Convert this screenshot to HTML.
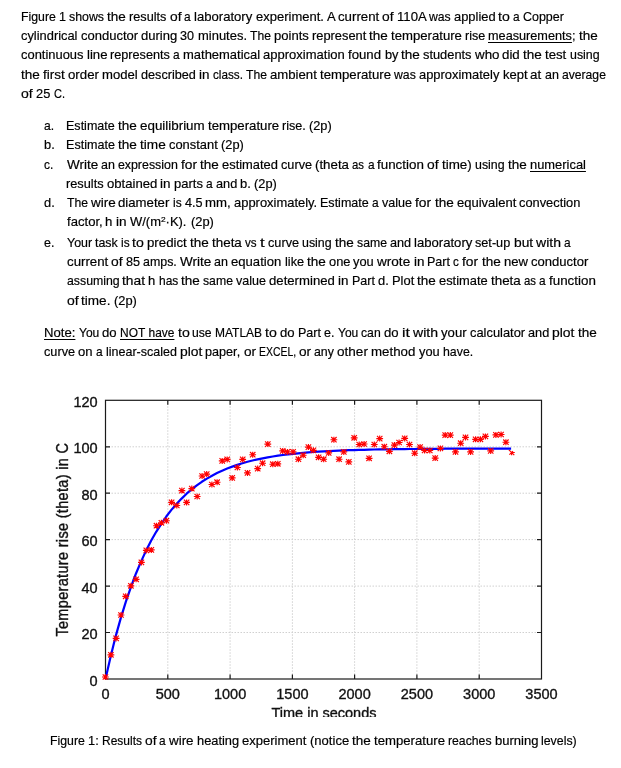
<!DOCTYPE html>
<html lang="en">
<head>
<meta charset="utf-8">
<title>Figure 1 - wire heating experiment</title>
<style>
html,body{margin:0;padding:0;background:#fff;}
body{width:621px;height:768px;position:relative;overflow:hidden;font-family:"Liberation Sans",sans-serif;color:#000;}
.l{position:absolute;white-space:nowrap;font-size:12.4px;line-height:16px;height:16px;color:#000;-webkit-text-stroke:0.18px #000;}
.l span{position:absolute;top:0;left:0;transform-origin:0 50%;white-space:nowrap;}
.l u{text-decoration:underline;text-decoration-thickness:1px;text-underline-offset:2px;}
.l sup{font-size:8px;line-height:0;vertical-align:4px;}
#chart{position:absolute;left:0;top:380px;width:621px;height:337px;overflow:hidden;}
#chart svg{display:block;}
#chart text{font-family:"Liberation Sans",sans-serif;fill:#111;stroke:#111;stroke-width:0.35px;}
</style>
</head>
<body>
<div class="l" style="left:21.0px;top:9px"><span style="left:0.0px;transform:scaleX(0.991)">Figure</span> <span style="left:37.9px;transform:scaleX(1.015)">1</span> <span style="left:48.1px;transform:scaleX(0.998)">shows</span> <span style="left:86.3px;transform:scaleX(1.089)">the</span> <span style="left:108.2px;transform:scaleX(1.024)">results</span> <span style="left:148.7px;transform:scaleX(1.113)">of</span> <span style="left:163.3px;transform:scaleX(0.958)">a</span> <span style="left:173.1px;transform:scaleX(1.058)">laboratory</span> <span style="left:234.5px;transform:scaleX(1.049)">experiment.</span> <span style="left:305.5px;transform:scaleX(1.053)">A</span> <span style="left:316.6px;transform:scaleX(1.068)">current</span> <span style="left:361.0px;transform:scaleX(1.113)">of</span> <span style="left:375.6px;transform:scaleX(1.061)">110A</span> <span style="left:407.8px;transform:scaleX(0.986)">was</span> <span style="left:432.6px;transform:scaleX(1.041)">applied</span> <span style="left:477.4px;transform:scaleX(1.139)">to</span> <span style="left:492.3px;transform:scaleX(0.958)">a</span> <span style="left:502.0px;transform:scaleX(1.006)">Copper</span></div>
<div class="l" style="left:21.2px;top:28px"><span style="left:0.0px;transform:scaleX(1.038)">cylindrical</span> <span style="left:59.6px;transform:scaleX(1.051)">conductor</span> <span style="left:119.9px;transform:scaleX(1.052)">during</span> <span style="left:159.3px;transform:scaleX(1.016)">30</span> <span style="left:176.5px;transform:scaleX(1.046)">minutes.</span> <span style="left:228.5px;transform:scaleX(0.977)">The</span> <span style="left:252.5px;transform:scaleX(1.055)">points</span> <span style="left:290.5px;transform:scaleX(1.037)">represent</span> <span style="left:348.0px;transform:scaleX(1.089)">the</span> <span style="left:369.9px;transform:scaleX(1.061)">temperature</span> <span style="left:443.9px;transform:scaleX(1.015)">rise</span> <span style="left:467.3px;transform:scaleX(1.024)"><u>measurements</u>;</span> <span style="left:557.9px;transform:scaleX(1.089)">the</span></div>
<div class="l" style="left:21.2px;top:47px"><span style="left:0.0px;transform:scaleX(1.042)">continuous</span> <span style="left:65.6px;transform:scaleX(1.063)">line</span> <span style="left:89.2px;transform:scaleX(1.022)">represents</span> <span style="left:152.2px;transform:scaleX(0.960)">a</span> <span style="left:162.0px;transform:scaleX(1.047)">mathematical</span> <span style="left:242.3px;transform:scaleX(1.051)">approximation</span> <span style="left:327.3px;transform:scaleX(1.066)">found</span> <span style="left:363.5px;transform:scaleX(1.030)">by</span> <span style="left:380.1px;transform:scaleX(1.092)">the</span> <span style="left:402.0px;transform:scaleX(1.036)">students</span> <span style="left:453.7px;transform:scaleX(1.076)">who</span> <span style="left:481.3px;transform:scaleX(1.072)">did</span> <span style="left:502.2px;transform:scaleX(1.092)">the</span> <span style="left:524.1px;transform:scaleX(1.065)">test</span> <span style="left:548.5px;transform:scaleX(1.001)">using</span></div>
<div class="l" style="left:21.2px;top:67px"><span style="left:0.0px;transform:scaleX(1.092)">the</span> <span style="left:22.0px;transform:scaleX(1.093)">first</span> <span style="left:46.9px;transform:scaleX(1.069)">order</span> <span style="left:81.0px;transform:scaleX(1.058)">model</span> <span style="left:119.9px;transform:scaleX(1.022)">described</span> <span style="left:177.9px;transform:scaleX(1.083)">in</span> <span style="left:191.5px;transform:scaleX(0.947)">class.</span> <span style="left:224.6px;transform:scaleX(0.980)">The</span> <span style="left:248.7px;transform:scaleX(1.062)">ambient</span> <span style="left:298.7px;transform:scaleX(1.064)">temperature</span> <span style="left:372.9px;transform:scaleX(0.989)">was</span> <span style="left:397.9px;transform:scaleX(1.042)">approximately</span> <span style="left:481.4px;transform:scaleX(1.051)">kept</span> <span style="left:509.2px;transform:scaleX(1.078)">at</span> <span style="left:523.4px;transform:scaleX(1.008)">an</span> <span style="left:540.5px;transform:scaleX(0.980)">average</span></div>
<div class="l" style="left:21.2px;top:86px"><span style="left:0.0px;transform:scaleX(1.133)">of</span> <span style="left:14.9px;transform:scaleX(1.034)">25</span> <span style="left:32.4px;transform:scaleX(0.891)">C.</span></div>
<div class="l" style="left:44.2px;top:118px"><span style="left:0.0px;transform:scaleX(0.976)">a.</span></div>
<div class="l" style="left:65.9px;top:118px"><span style="left:0.0px;transform:scaleX(1.012)">Estimate</span> <span style="left:51.9px;transform:scaleX(1.094)">the</span> <span style="left:73.9px;transform:scaleX(1.080)">equilibrium</span> <span style="left:141.8px;transform:scaleX(1.066)">temperature</span> <span style="left:216.2px;transform:scaleX(1.019)">rise.</span> <span style="left:243.2px;transform:scaleX(1.031)">(2p)</span></div>
<div class="l" style="left:44.2px;top:137px"><span style="left:0.0px;transform:scaleX(1.034)">b.</span></div>
<div class="l" style="left:65.9px;top:137px"><span style="left:0.0px;transform:scaleX(1.015)">Estimate</span> <span style="left:52.1px;transform:scaleX(1.097)">the</span> <span style="left:74.1px;transform:scaleX(1.101)">time</span> <span style="left:103.1px;transform:scaleX(1.040)">constant</span> <span style="left:154.9px;transform:scaleX(1.034)">(2p)</span></div>
<div class="l" style="left:44.2px;top:157px"><span style="left:0.0px;transform:scaleX(0.965)">c.</span></div>
<div class="l" style="left:66.5px;top:157px"><span style="left:0.0px;transform:scaleX(1.089)">Write</span> <span style="left:34.4px;transform:scaleX(1.006)">an</span> <span style="left:51.4px;transform:scaleX(1.000)">expression</span> <span style="left:114.4px;transform:scaleX(1.109)">for</span> <span style="left:133.6px;transform:scaleX(1.090)">the</span> <span style="left:155.5px;transform:scaleX(1.042)">estimated</span> <span style="left:214.6px;transform:scaleX(1.024)">curve</span> <span style="left:248.8px;transform:scaleX(1.072)">(theta</span> <span style="left:285.9px;transform:scaleX(0.919)">as</span> <span style="left:301.0px;transform:scaleX(0.958)">a</span> <span style="left:310.8px;transform:scaleX(1.079)">function</span> <span style="left:360.7px;transform:scaleX(1.113)">of</span> <span style="left:375.4px;transform:scaleX(1.082)">time)</span> <span style="left:408.3px;transform:scaleX(0.999)">using</span> <span style="left:441.1px;transform:scaleX(1.090)">the</span> <span style="left:463.0px;transform:scaleX(1.041)"><u>numerical</u></span></div>
<div class="l" style="left:65.9px;top:176px"><span style="left:0.0px;transform:scaleX(1.030)">results</span> <span style="left:40.7px;transform:scaleX(1.060)">obtained</span> <span style="left:94.3px;transform:scaleX(1.087)">in</span> <span style="left:107.9px;transform:scaleX(1.049)">parts</span> <span style="left:140.0px;transform:scaleX(0.964)">a</span> <span style="left:149.8px;transform:scaleX(1.028)">and</span> <span style="left:174.2px;transform:scaleX(1.045)">b.</span> <span style="left:188.1px;transform:scaleX(1.033)">(2p)</span></div>
<div class="l" style="left:44.2px;top:195px"><span style="left:0.0px;transform:scaleX(1.034)">d.</span></div>
<div class="l" style="left:66.5px;top:195px"><span style="left:0.0px;transform:scaleX(0.982)">The</span> <span style="left:24.1px;transform:scaleX(1.086)">wire</span> <span style="left:51.9px;transform:scaleX(1.064)">diameter</span> <span style="left:106.4px;transform:scaleX(0.962)">is</span> <span style="left:118.1px;transform:scaleX(1.020)">4.5</span> <span style="left:138.8px;transform:scaleX(1.065)">mm,</span> <span style="left:167.6px;transform:scaleX(1.044)">approximately.</span> <span style="left:253.9px;transform:scaleX(1.012)">Estimate</span> <span style="left:305.9px;transform:scaleX(0.963)">a</span> <span style="left:315.7px;transform:scaleX(1.016)">value</span> <span style="left:348.9px;transform:scaleX(1.113)">for</span> <span style="left:368.2px;transform:scaleX(1.094)">the</span> <span style="left:390.2px;transform:scaleX(1.050)">equivalent</span> <span style="left:452.6px;transform:scaleX(1.036)">convection</span></div>
<div class="l" style="left:66.5px;top:214px"><span style="left:0.0px;transform:scaleX(1.058)">factor,</span> <span style="left:38.9px;transform:scaleX(1.064)">h</span> <span style="left:49.4px;transform:scaleX(1.094)">in</span> <span style="left:63.1px;transform:scaleX(1.045)">W/(m<sup>2</sup>·K).</span> <span style="left:124.1px;transform:scaleX(1.040)">(2p)</span></div>
<div class="l" style="left:44.2px;top:235px"><span style="left:0.0px;transform:scaleX(1.005)">e.</span></div>
<div class="l" style="left:66.5px;top:235px"><span style="left:0.0px;transform:scaleX(1.002)">Your</span> <span style="left:28.2px;transform:scaleX(1.003)">task</span> <span style="left:54.2px;transform:scaleX(0.959)">is</span> <span style="left:65.9px;transform:scaleX(1.141)">to</span> <span style="left:80.8px;transform:scaleX(1.068)">predict</span> <span style="left:123.7px;transform:scaleX(1.091)">the</span> <span style="left:145.6px;transform:scaleX(1.082)">theta</span> <span style="left:178.6px;transform:scaleX(0.937)">vs</span> <span style="left:193.3px;transform:scaleX(1.343)">t</span> <span style="left:201.1px;transform:scaleX(1.025)">curve</span> <span style="left:235.3px;transform:scaleX(1.001)">using</span> <span style="left:268.1px;transform:scaleX(1.091)">the</span> <span style="left:290.0px;transform:scaleX(0.989)">same</span> <span style="left:323.1px;transform:scaleX(1.023)">and</span> <span style="left:347.4px;transform:scaleX(1.059)">laboratory</span> <span style="left:408.9px;transform:scaleX(1.022)">set-up</span> <span style="left:447.3px;transform:scaleX(1.113)">but</span> <span style="left:469.6px;transform:scaleX(1.133)">with</span> <span style="left:497.7px;transform:scaleX(0.960)">a</span></div>
<div class="l" style="left:66.5px;top:254px"><span style="left:0.0px;transform:scaleX(1.070)">current</span> <span style="left:44.4px;transform:scaleX(1.116)">of</span> <span style="left:59.1px;transform:scaleX(1.019)">85</span> <span style="left:76.3px;transform:scaleX(1.002)">amps.</span> <span style="left:113.3px;transform:scaleX(1.091)">Write</span> <span style="left:147.7px;transform:scaleX(1.008)">an</span> <span style="left:164.8px;transform:scaleX(1.057)">equation</span> <span style="left:218.1px;transform:scaleX(1.027)">like</span> <span style="left:240.4px;transform:scaleX(1.092)">the</span> <span style="left:262.3px;transform:scaleX(1.038)">one</span> <span style="left:286.9px;transform:scaleX(1.035)">you</span> <span style="left:310.8px;transform:scaleX(1.095)">wrote</span> <span style="left:347.1px;transform:scaleX(1.083)">in</span> <span style="left:360.7px;transform:scaleX(1.010)">Part</span> <span style="left:386.8px;transform:scaleX(0.946)">c</span> <span style="left:395.8px;transform:scaleX(1.111)">for</span> <span style="left:415.0px;transform:scaleX(1.092)">the</span> <span style="left:437.0px;transform:scaleX(1.056)">new</span> <span style="left:464.1px;transform:scaleX(1.054)">conductor</span></div>
<div class="l" style="left:66.5px;top:273px"><span style="left:0.0px;transform:scaleX(0.993)">assuming</span> <span style="left:55.8px;transform:scaleX(1.113)">that</span> <span style="left:81.9px;transform:scaleX(1.051)">h</span> <span style="left:92.3px;transform:scaleX(0.965)">has</span> <span style="left:114.7px;transform:scaleX(1.089)">the</span> <span style="left:136.6px;transform:scaleX(0.988)">same</span> <span style="left:169.7px;transform:scaleX(1.011)">value</span> <span style="left:202.8px;transform:scaleX(1.062)">determined</span> <span style="left:271.7px;transform:scaleX(1.081)">in</span> <span style="left:285.3px;transform:scaleX(1.007)">Part</span> <span style="left:311.3px;transform:scaleX(1.039)">d.</span> <span style="left:325.2px;transform:scaleX(1.041)">Plot</span> <span style="left:350.6px;transform:scaleX(1.089)">the</span> <span style="left:372.5px;transform:scaleX(1.040)">estimate</span> <span style="left:424.3px;transform:scaleX(1.080)">theta</span> <span style="left:457.2px;transform:scaleX(0.919)">as</span> <span style="left:472.3px;transform:scaleX(0.958)">a</span> <span style="left:482.1px;transform:scaleX(1.079)">function</span></div>
<div class="l" style="left:66.5px;top:293px"><span style="left:0.0px;transform:scaleX(1.126)">of</span> <span style="left:14.8px;transform:scaleX(1.096)">time.</span> <span style="left:47.4px;transform:scaleX(1.038)">(2p)</span></div>
<div class="l" style="left:44.2px;top:325px"><span style="left:0.0px;transform:scaleX(1.060)"><u>Note:</u></span> <span style="left:34.5px;transform:scaleX(0.972)">You</span> <span style="left:58.0px;transform:scaleX(1.059)">do</span> <span style="left:75.8px;transform:scaleX(0.964)"><u>NOT&nbsp;have</u></span> <span style="left:133.4px;transform:scaleX(1.144)">to</span> <span style="left:148.3px;transform:scaleX(0.982)">use</span> <span style="left:171.1px;transform:scaleX(0.966)">MATLAB</span> <span style="left:221.3px;transform:scaleX(1.144)">to</span> <span style="left:236.2px;transform:scaleX(1.059)">do</span> <span style="left:254.0px;transform:scaleX(1.012)">Part</span> <span style="left:280.2px;transform:scaleX(1.007)">e.</span> <span style="left:293.7px;transform:scaleX(0.972)">You</span> <span style="left:317.2px;transform:scaleX(0.985)">can</span> <span style="left:340.0px;transform:scaleX(1.059)">do</span> <span style="left:357.8px;transform:scaleX(1.264)">it</span> <span style="left:368.8px;transform:scaleX(1.136)">with</span> <span style="left:397.0px;transform:scaleX(1.061)">your</span> <span style="left:425.7px;transform:scaleX(1.039)">calculator</span> <span style="left:484.0px;transform:scaleX(1.026)">and</span> <span style="left:508.3px;transform:scaleX(1.123)">plot</span> <span style="left:533.9px;transform:scaleX(1.094)">the</span></div>
<div class="l" style="left:44.2px;top:344px"><span style="left:0.0px;transform:scaleX(1.025)">curve</span> <span style="left:34.2px;transform:scaleX(1.056)">on</span> <span style="left:51.9px;transform:scaleX(0.960)">a</span> <span style="left:61.7px;transform:scaleX(1.009)">linear-scaled</span> <span style="left:135.7px;transform:scaleX(1.119)">plot</span> <span style="left:161.2px;transform:scaleX(1.020)">paper,</span> <span style="left:199.5px;transform:scaleX(1.099)">or</span> <span style="left:214.7px;transform:scaleX(0.841)">EXCEL,</span> <span style="left:254.9px;transform:scaleX(1.099)">or</span> <span style="left:270.2px;transform:scaleX(0.996)">any</span> <span style="left:293.2px;transform:scaleX(1.094)">other</span> <span style="left:327.3px;transform:scaleX(1.072)">method</span> <span style="left:374.7px;transform:scaleX(1.034)">you</span> <span style="left:398.5px;transform:scaleX(0.995)">have.</span></div>
<div class="l" style="left:49.8px;top:733px"><span style="left:0.0px;transform:scaleX(0.991)">Figure</span> <span style="left:37.9px;transform:scaleX(1.035)">1:</span> <span style="left:51.8px;transform:scaleX(0.968)">Results</span> <span style="left:94.9px;transform:scaleX(1.114)">of</span> <span style="left:109.6px;transform:scaleX(0.959)">a</span> <span style="left:119.3px;transform:scaleX(1.082)">wire</span> <span style="left:147.0px;transform:scaleX(1.036)">heating</span> <span style="left:192.3px;transform:scaleX(1.052)">experiment</span> <span style="left:259.9px;transform:scaleX(1.053)">(notice</span> <span style="left:302.1px;transform:scaleX(1.090)">the</span> <span style="left:324.1px;transform:scaleX(1.062)">temperature</span> <span style="left:398.1px;transform:scaleX(0.987)">reaches</span> <span style="left:444.8px;transform:scaleX(1.053)">burning</span> <span style="left:491.5px;transform:scaleX(0.998)">levels)</span></div>
<div id="chart"><svg width="621" height="338" viewBox="0 0 621 338">
<path d="M167.8 20.3V299.0M230.1 20.3V299.0M292.4 20.3V299.0M354.6 20.3V299.0M416.9 20.3V299.0M479.2 20.3V299.0M105.5 252.5H541.5M105.5 206.1H541.5M105.5 159.6H541.5M105.5 113.2H541.5M105.5 66.8H541.5" stroke="#d0d0d0" stroke-width="1" stroke-dasharray="1.5 1.5" fill="none"/>
<rect x="105.5" y="20.3" width="436.0" height="278.7" fill="none" stroke="#1a1a1a" stroke-width="1.2"/>
<path d="M167.8 299.0v-4.5M167.8 20.3v4.5M230.1 299.0v-4.5M230.1 20.3v4.5M292.4 299.0v-4.5M292.4 20.3v4.5M354.6 299.0v-4.5M354.6 20.3v4.5M416.9 299.0v-4.5M416.9 20.3v4.5M479.2 299.0v-4.5M479.2 20.3v4.5M105.5 252.5h4.5M541.5 252.5h-4.5M105.5 206.1h4.5M541.5 206.1h-4.5M105.5 159.6h4.5M541.5 159.6h-4.5M105.5 113.2h4.5M541.5 113.2h-4.5M105.5 66.8h4.5M541.5 66.8h-4.5" stroke="#1a1a1a" stroke-width="1.2" fill="none"/>
<path d="M510.6 72.5h4.2M511.6 71.5v3.8M508.9 69.8l5.4 5.4M509.4 74.7l3.6 -3.6" stroke="#ff0000" stroke-width="1.15" fill="none"/>
<polyline points="105.5,299.0 110.6,276.7 115.6,256.6 120.7,238.4 125.8,221.9 130.9,207.1 135.9,193.7 141.0,181.6 146.1,170.6 151.1,160.7 156.2,151.8 161.3,143.8 166.3,136.5 171.4,129.9 176.5,124.0 181.6,118.6 186.6,113.7 191.7,109.4 196.8,105.4 201.8,101.8 206.9,98.6 212.0,95.7 217.0,93.1 222.1,90.7 227.2,88.5 232.3,86.6 237.3,84.9 242.4,83.3 247.5,81.8 252.5,80.5 257.6,79.4 262.7,78.3 267.7,77.4 272.8,76.5 277.9,75.7 283.0,75.0 288.0,74.4 293.1,73.8 298.2,73.3 303.2,72.8 308.3,72.4 313.4,72.0 318.4,71.7 323.5,71.4 328.6,71.1 333.7,70.9 338.7,70.6 343.8,70.4 348.9,70.2 353.9,70.1 359.0,69.9 364.1,69.8 369.1,69.7 374.2,69.5 379.3,69.4 384.4,69.3 389.4,69.3 394.5,69.2 399.6,69.1 404.6,69.1 409.7,69.0 414.8,69.0 419.8,68.9 424.9,68.9 430.0,68.8 435.1,68.8 440.1,68.8 445.2,68.7 450.3,68.7 455.3,68.7 460.4,68.7 465.5,68.7 470.5,68.6 475.6,68.6 480.7,68.6 485.8,68.6 490.8,68.6 495.9,68.6 501.0,68.6 506.0,68.6 511.1,68.6" fill="none" stroke="#0000ff" stroke-width="2.2" stroke-linejoin="round"/>
<path d="M102.0 297.0h6.8M105.4 294.0v6.0M102.7 294.3l5.4 5.4M102.7 299.7l5.4 -5.4M107.5 274.8h6.8M110.9 271.8v6.0M108.2 272.1l5.4 5.4M108.2 277.5l5.4 -5.4M112.7 258.4h6.8M116.1 255.4v6.0M113.4 255.7l5.4 5.4M113.4 261.1l5.4 -5.4M117.6 235.0h6.8M121.0 232.0v6.0M118.3 232.3l5.4 5.4M118.3 237.7l5.4 -5.4M122.3 216.3h6.8M125.7 213.3v6.0M123.0 213.6l5.4 5.4M123.0 219.0l5.4 -5.4M127.5 205.8h6.8M130.9 202.8v6.0M128.2 203.1l5.4 5.4M128.2 208.5l5.4 -5.4M132.7 199.3h6.8M136.1 196.3v6.0M133.4 196.6l5.4 5.4M133.4 202.0l5.4 -5.4M138.0 182.4h6.8M141.4 179.4v6.0M138.7 179.7l5.4 5.4M138.7 185.1l5.4 -5.4M142.9 170.4h6.8M146.3 167.4v6.0M143.6 167.7l5.4 5.4M143.6 173.1l5.4 -5.4M147.9 169.9h6.8M151.3 166.9v6.0M148.6 167.2l5.4 5.4M148.6 172.6l5.4 -5.4M153.1 145.7h6.8M156.5 142.7v6.0M153.8 143.0l5.4 5.4M153.8 148.4l5.4 -5.4M158.0 142.8h6.8M161.4 139.8v6.0M158.7 140.1l5.4 5.4M158.7 145.5l5.4 -5.4M163.0 140.7h6.8M166.4 137.7v6.0M163.7 138.0l5.4 5.4M163.7 143.4l5.4 -5.4M168.2 122.3h6.8M171.6 119.3v6.0M168.9 119.6l5.4 5.4M168.9 125.0l5.4 -5.4M173.4 125.5h6.8M176.8 122.5v6.0M174.1 122.8l5.4 5.4M174.1 128.2l5.4 -5.4M178.5 110.6h6.8M181.9 107.6v6.0M179.2 107.9l5.4 5.4M179.2 113.3l5.4 -5.4M183.2 122.4h6.8M186.6 119.4v6.0M183.9 119.7l5.4 5.4M183.9 125.1l5.4 -5.4M188.4 108.6h6.8M191.8 105.6v6.0M189.1 105.9l5.4 5.4M189.1 111.3l5.4 -5.4M193.8 116.5h6.8M197.2 113.5v6.0M194.5 113.8l5.4 5.4M194.5 119.2l5.4 -5.4M198.7 96.0h6.8M202.1 93.0v6.0M199.4 93.3l5.4 5.4M199.4 98.7l5.4 -5.4M203.3 94.1h6.8M206.7 91.1v6.0M204.0 91.4l5.4 5.4M204.0 96.8l5.4 -5.4M208.5 104.5h6.8M211.9 101.5v6.0M209.2 101.8l5.4 5.4M209.2 107.2l5.4 -5.4M213.7 102.2h6.8M217.1 99.2v6.0M214.4 99.5l5.4 5.4M214.4 104.9l5.4 -5.4M218.8 80.9h6.8M222.2 77.9v6.0M219.5 78.2l5.4 5.4M219.5 83.6l5.4 -5.4M223.8 79.4h6.8M227.2 76.4v6.0M224.5 76.7l5.4 5.4M224.5 82.1l5.4 -5.4M228.8 97.9h6.8M232.2 94.9v6.0M229.5 95.2l5.4 5.4M229.5 100.6l5.4 -5.4M234.0 87.5h6.8M237.4 84.5v6.0M234.7 84.8l5.4 5.4M234.7 90.2l5.4 -5.4M239.3 79.4h6.8M242.7 76.4v6.0M240.0 76.7l5.4 5.4M240.0 82.1l5.4 -5.4M244.1 92.9h6.8M247.5 89.9v6.0M244.8 90.2l5.4 5.4M244.8 95.6l5.4 -5.4M249.3 74.7h6.8M252.7 71.7v6.0M250.0 72.0l5.4 5.4M250.0 77.4l5.4 -5.4M254.3 88.6h6.8M257.7 85.6v6.0M255.0 85.9l5.4 5.4M255.0 91.3l5.4 -5.4M259.2 83.2h6.8M262.6 80.2v6.0M259.9 80.5l5.4 5.4M259.9 85.9l5.4 -5.4M264.4 64.1h6.8M267.8 61.1v6.0M265.1 61.4l5.4 5.4M265.1 66.8l5.4 -5.4M269.4 84.2h6.8M272.8 81.2v6.0M270.1 81.5l5.4 5.4M270.1 86.9l5.4 -5.4M274.4 83.8h6.8M277.8 80.8v6.0M275.1 81.1l5.4 5.4M275.1 86.5l5.4 -5.4M279.3 70.9h6.8M282.7 67.9v6.0M280.0 68.2l5.4 5.4M280.0 73.6l5.4 -5.4M284.1 71.9h6.8M287.5 68.9v6.0M284.8 69.2l5.4 5.4M284.8 74.6l5.4 -5.4M289.7 71.9h6.8M293.1 68.9v6.0M290.4 69.2l5.4 5.4M290.4 74.6l5.4 -5.4M295.0 79.2h6.8M298.4 76.2v6.0M295.7 76.5l5.4 5.4M295.7 81.9l5.4 -5.4M299.8 75.2h6.8M303.2 72.2v6.0M300.5 72.5l5.4 5.4M300.5 77.9l5.4 -5.4M305.0 67.1h6.8M308.4 64.1v6.0M305.7 64.4l5.4 5.4M305.7 69.8l5.4 -5.4M310.0 70.3h6.8M313.4 67.3v6.0M310.7 67.6l5.4 5.4M310.7 73.0l5.4 -5.4M315.2 77.3h6.8M318.6 74.3v6.0M315.9 74.6l5.4 5.4M315.9 80.0l5.4 -5.4M320.3 79.2h6.8M323.7 76.2v6.0M321.0 76.5l5.4 5.4M321.0 81.9l5.4 -5.4M325.3 72.9h6.8M328.7 69.9v6.0M326.0 70.2l5.4 5.4M326.0 75.6l5.4 -5.4M330.5 59.7h6.8M333.9 56.7v6.0M331.2 57.0l5.4 5.4M331.2 62.4l5.4 -5.4M335.7 79.2h6.8M339.1 76.2v6.0M336.4 76.5l5.4 5.4M336.4 81.9l5.4 -5.4M340.4 71.9h6.8M343.8 68.9v6.0M341.1 69.2l5.4 5.4M341.1 74.6l5.4 -5.4M345.4 81.9h6.8M348.8 78.9v6.0M346.1 79.2l5.4 5.4M346.1 84.6l5.4 -5.4M350.8 57.8h6.8M354.2 54.8v6.0M351.5 55.1l5.4 5.4M351.5 60.5l5.4 -5.4M355.8 64.5h6.8M359.2 61.5v6.0M356.5 61.8l5.4 5.4M356.5 67.2l5.4 -5.4M360.7 64.0h6.8M364.1 61.0v6.0M361.4 61.3l5.4 5.4M361.4 66.7l5.4 -5.4M365.7 78.3h6.8M369.1 75.3v6.0M366.4 75.6l5.4 5.4M366.4 81.0l5.4 -5.4M370.9 64.5h6.8M374.3 61.5v6.0M371.6 61.8l5.4 5.4M371.6 67.2l5.4 -5.4M376.3 58.6h6.8M379.7 55.6v6.0M377.0 55.9l5.4 5.4M377.0 61.3l5.4 -5.4M380.9 66.7h6.8M384.3 63.7v6.0M381.6 64.0l5.4 5.4M381.6 69.4l5.4 -5.4M386.0 71.3h6.8M389.4 68.3v6.0M386.7 68.6l5.4 5.4M386.7 74.0l5.4 -5.4M391.0 65.1h6.8M394.4 62.1v6.0M391.7 62.4l5.4 5.4M391.7 67.8l5.4 -5.4M395.7 62.5h6.8M399.1 59.5v6.0M396.4 59.8l5.4 5.4M396.4 65.2l5.4 -5.4M401.3 58.4h6.8M404.7 55.4v6.0M402.0 55.7l5.4 5.4M402.0 61.1l5.4 -5.4M406.1 64.5h6.8M409.5 61.5v6.0M406.8 61.8l5.4 5.4M406.8 67.2l5.4 -5.4M411.3 73.2h6.8M414.7 70.2v6.0M412.0 70.5l5.4 5.4M412.0 75.9l5.4 -5.4M416.7 67.1h6.8M420.1 64.1v6.0M417.4 64.4l5.4 5.4M417.4 69.8l5.4 -5.4M421.2 70.5h6.8M424.6 67.5v6.0M421.9 67.8l5.4 5.4M421.9 73.2l5.4 -5.4M426.4 70.5h6.8M429.8 67.5v6.0M427.1 67.8l5.4 5.4M427.1 73.2l5.4 -5.4M431.8 78.1h6.8M435.2 75.1v6.0M432.5 75.4l5.4 5.4M432.5 80.8l5.4 -5.4M437.0 68.4h6.8M440.4 65.4v6.0M437.7 65.7l5.4 5.4M437.7 71.1l5.4 -5.4M441.8 55.1h6.8M445.2 52.1v6.0M442.5 52.4l5.4 5.4M442.5 57.8l5.4 -5.4M446.9 55.1h6.8M450.3 52.1v6.0M447.6 52.4l5.4 5.4M447.6 57.8l5.4 -5.4M452.1 71.9h6.8M455.5 68.9v6.0M452.8 69.2l5.4 5.4M452.8 74.6l5.4 -5.4M457.3 63.2h6.8M460.7 60.2v6.0M458.0 60.5l5.4 5.4M458.0 65.9l5.4 -5.4M462.1 57.4h6.8M465.5 54.4v6.0M462.8 54.7l5.4 5.4M462.8 60.1l5.4 -5.4M467.2 71.9h6.8M470.6 68.9v6.0M467.9 69.2l5.4 5.4M467.9 74.6l5.4 -5.4M472.2 59.3h6.8M475.6 56.3v6.0M472.9 56.6l5.4 5.4M472.9 62.0l5.4 -5.4M477.0 59.3h6.8M480.4 56.3v6.0M477.7 56.6l5.4 5.4M477.7 62.0l5.4 -5.4M482.0 56.4h6.8M485.4 53.4v6.0M482.7 53.7l5.4 5.4M482.7 59.1l5.4 -5.4M487.3 70.9h6.8M490.7 67.9v6.0M488.0 68.2l5.4 5.4M488.0 73.6l5.4 -5.4M492.5 54.9h6.8M495.9 51.9v6.0M493.2 52.2l5.4 5.4M493.2 57.6l5.4 -5.4M497.7 54.5h6.8M501.1 51.5v6.0M498.4 51.8l5.4 5.4M498.4 57.2l5.4 -5.4M502.5 62.2h6.8M505.9 59.2v6.0M503.2 59.5l5.4 5.4M503.2 64.9l5.4 -5.4" stroke="#ff0000" stroke-width="1.15" fill="none"/>
<text x="97.6" y="305.6" font-size="14.5" text-anchor="end">0</text>
<text x="97.6" y="259.1" font-size="14.5" text-anchor="end">20</text>
<text x="97.6" y="212.7" font-size="14.5" text-anchor="end">40</text>
<text x="97.6" y="166.2" font-size="14.5" text-anchor="end">60</text>
<text x="97.6" y="119.8" font-size="14.5" text-anchor="end">80</text>
<text x="97.6" y="73.3" font-size="14.5" text-anchor="end">100</text>
<text x="97.6" y="26.9" font-size="14.5" text-anchor="end">120</text>
<text x="105.5" y="318.9" font-size="14.5" text-anchor="middle">0</text>
<text x="167.8" y="318.9" font-size="14.5" text-anchor="middle">500</text>
<text x="230.1" y="318.9" font-size="14.5" text-anchor="middle">1000</text>
<text x="292.4" y="318.9" font-size="14.5" text-anchor="middle">1500</text>
<text x="354.6" y="318.9" font-size="14.5" text-anchor="middle">2000</text>
<text x="416.9" y="318.9" font-size="14.5" text-anchor="middle">2500</text>
<text x="479.2" y="318.9" font-size="14.5" text-anchor="middle">3000</text>
<text x="541.5" y="318.9" font-size="14.5" text-anchor="middle">3500</text>
<text x="324" y="338.2" font-size="14.5" text-anchor="middle">Time in seconds</text>
<text transform="translate(67.5 256.6) rotate(-90) scale(1 1.09)" font-size="14.5" textLength="193.6" lengthAdjust="spacing">Temperature rise (theta) in C</text>
</svg></div>
</body></html>
